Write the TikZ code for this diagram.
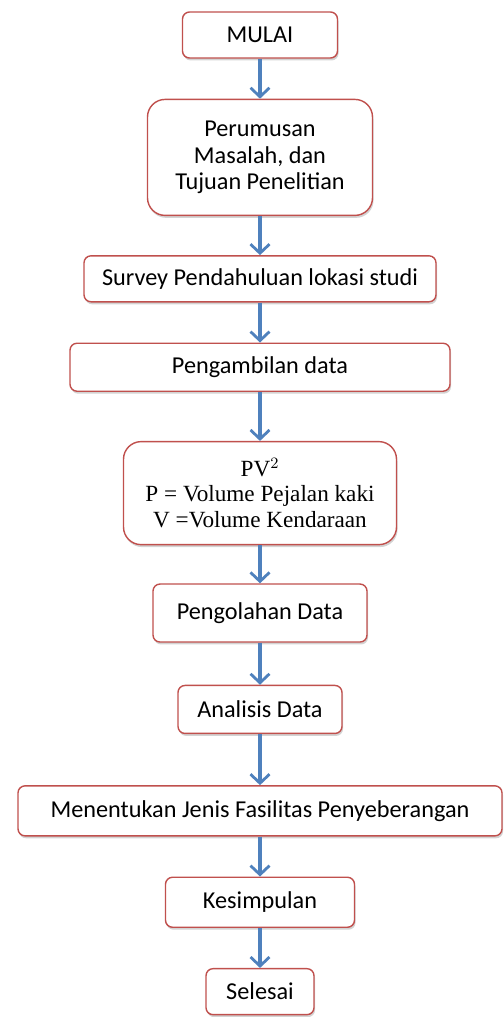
\documentclass[tikz,border=0pt]{standalone}
\usepackage{fontspec}
\setmainfont{Carlito}
\newfontfamily\pvfont{Liberation Serif}
\usepackage{tikz}
\usetikzlibrary{arrows.meta, positioning, shadows}

\definecolor{boxred}{RGB}{192,80,77}
\definecolor{arrowblue}{RGB}{79,129,189}

\begin{document}
\begin{tikzpicture}[
    box/.style={rectangle, rounded corners=4pt, draw=boxred, line width=0.8pt, fill=white, align=center, font=\fontsize{13.8}{15}\selectfont, drop shadow={opacity=0.35, shadow xshift=0.6pt, shadow yshift=-1.4pt}},
    bigbox/.style={box, rounded corners=10pt},
    arrow/.style={-{Straight Barb[length=1.8mm, width=3.8mm, line width=1.6pt]}, line width=1.8pt, draw=arrowblue}
]
\useasboundingbox (0,0) rectangle (10.06,-20.34);

\node[box, minimum width=3.1cm, minimum height=0.92cm] (mulai) at (5.2,-0.7) {MULAI};
\node[bigbox, below=0.8cm of mulai, minimum width=4.5cm, minimum height=2.32cm] (rumusan) {Perumusan\\Masalah, dan\\Tujuan Penelitian};
\node[box, below=0.78cm of rumusan, minimum width=7.04cm, minimum height=0.92cm] (survey) {Survey Pendahuluan lokasi studi};
\node[box, below=0.8cm of survey, minimum width=7.6cm, minimum height=0.96cm] (ambil) {Pengambilan data};
\node[bigbox, below=0.98cm of ambil, minimum width=5.46cm, minimum height=2.06cm, font=\pvfont\fontsize{13.2}{14.5}\selectfont] (pv) {PV$^{2}$\\P = Volume Pejalan kaki\\V =Volume Kendaraan};
\node[box, below=0.76cm of pv, minimum width=4.28cm, minimum height=1.16cm] (olah) {Pengolahan Data};
\node[box, below=0.84cm of olah, minimum width=3.28cm, minimum height=0.96cm] (analisis) {Analisis Data};
\node[box, below=1.02cm of analisis, minimum width=9.68cm, minimum height=1.0cm] (jenis) {Menentukan Jenis Fasilitas Penyeberangan};
\node[box, below=0.8cm of jenis, minimum width=3.78cm, minimum height=1.0cm] (simpul) {Kesimpulan};
\node[box, below=0.8cm of simpul, minimum width=2.16cm, minimum height=0.92cm] (selesai) {Selesai};

\draw[arrow] (mulai) -- (rumusan);
\draw[arrow] (rumusan) -- (survey);
\draw[arrow] (survey) -- (ambil);
\draw[arrow] (ambil) -- (pv);
\draw[arrow] (pv) -- (olah);
\draw[arrow] (olah) -- (analisis);
\draw[arrow] (analisis) -- (jenis);
\draw[arrow] (jenis) -- (simpul);
\draw[arrow] (simpul) -- (selesai);

\end{tikzpicture}
\end{document}
